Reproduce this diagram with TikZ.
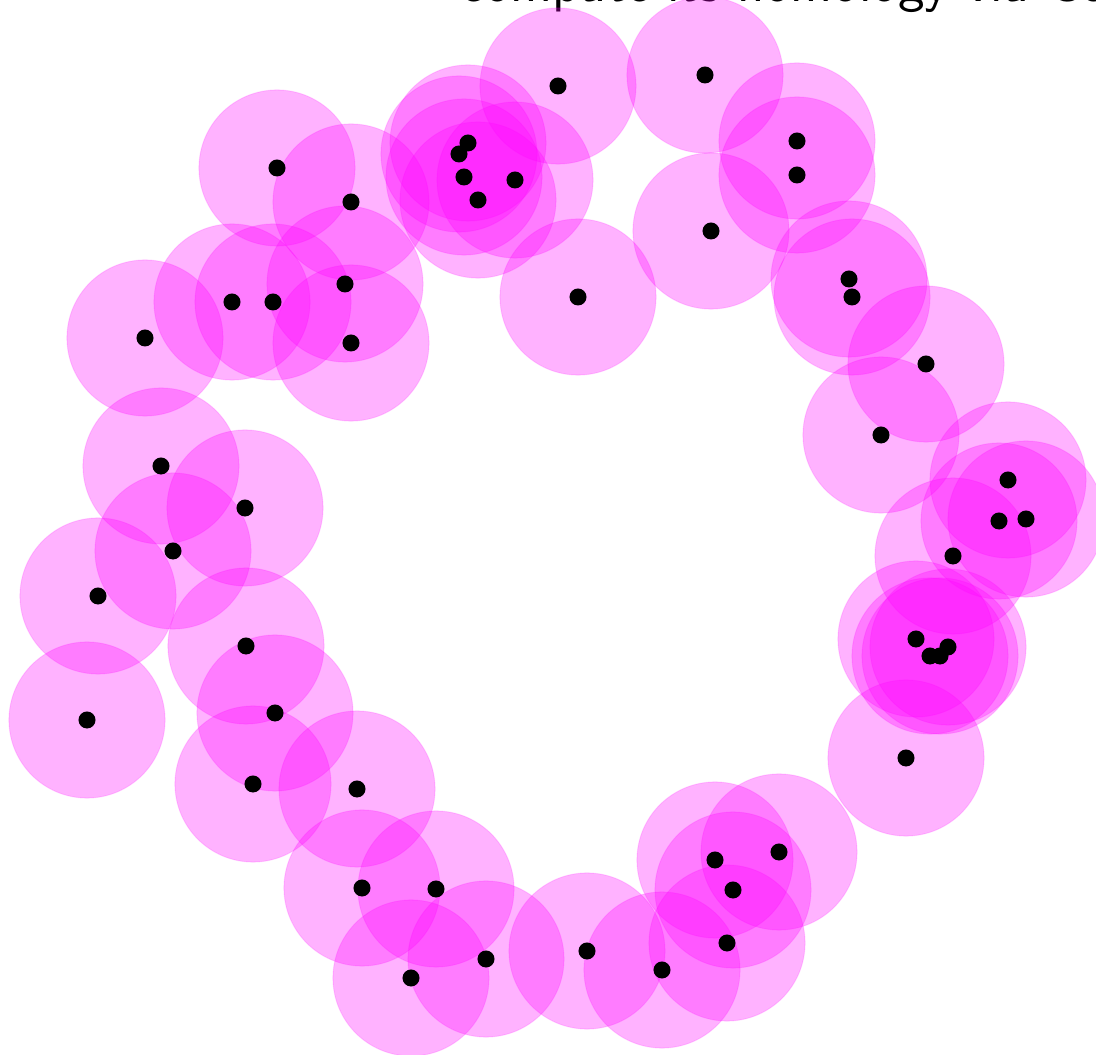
\documentclass[tikz,border=0pt]{standalone}
\definecolor{cechpink}{RGB}{255,0,255}
\begin{document}
\begin{tikzpicture}[x=0.01cm,y=-0.01cm,
  ball/.style={fill=cechpink,fill opacity=0.3,draw=cechpink,draw opacity=0.15,line width=0.3pt},
  sample/.style={fill=black}]
\useasboundingbox (0,0) rectangle (1096,1055);
\clip (0,0) rectangle (1096,1055);
\node[anchor=base west,inner sep=0pt,font=\sffamily\fontsize{15.4}{18}\selectfont] (title) at (460,2) {compute its homology via Čech};
% point cloud
\def\cloud{558/86, 705/75, 797/141, 797/175, 277/168, 351/202, 468/143, 459/154,
  464/177, 515/180, 478/200, 711/231, 849/279, 852/297, 578/297, 232/302,
  273/302, 345/284, 351/343, 145/338, 926/364, 881/435, 161/466, 245/508,
  1008/480, 999/521, 1026/519, 953/556, 173/551, 98/596, 916/639, 930/656,
  940/656, 948/647, 246/646, 87/720, 275/713, 906/758, 253/784, 357/789,
  715/860, 779/852, 733/890, 362/888, 436/889, 727/943, 587/951, 486/959,
  662/970, 411/978}
\foreach \a/\b in \cloud
  \filldraw[ball] (\a,\b) circle (0.78cm);
\foreach \a/\b in \cloud
  \fill[sample] (\a,\b) circle (0.085cm);
\end{tikzpicture}
\end{document}
